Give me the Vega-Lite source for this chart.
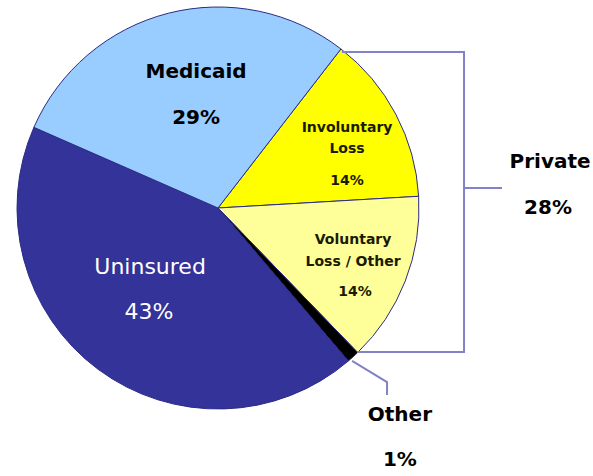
{
  "$schema": "https://vega.github.io/schema/vega-lite/v6.json",
  "autosize": "none",
  "width": 436,
  "height": 416,
  "padding": {"left": 0, "top": 0, "right": 157, "bottom": 60},
  "background": "white",
  "config": {"view": {"stroke": null}},
  "datasets": {
    "slices": [
      {"cat": "Involuntary Loss", "share": 13.6, "idx": 1},
      {"cat": "Voluntary Loss / Other", "share": 13.7, "idx": 2},
      {"cat": "Other", "share": 1.0, "idx": 3},
      {"cat": "Uninsured", "share": 42.8, "idx": 4},
      {"cat": "Medicaid", "share": 28.9, "idx": 5}
    ],
    "bigLabels": [
      {"text": "Medicaid", "u": -0.109, "v": 0.677},
      {"text": "29%", "u": -0.109, "v": 0.448},
      {"text": "Private", "u": 1.652, "v": 0.229},
      {"text": "28%", "u": 1.642, "v": 0.0},
      {"text": "Other", "u": 0.905, "v": -1.03},
      {"text": "1%", "u": 0.905, "v": -1.254}
    ],
    "whiteLabels": [
      {"text": "Uninsured", "u": -0.338, "v": -0.294},
      {"text": "43%", "u": -0.343, "v": -0.517}
    ],
    "smallLabels": [
      {"text": "Involuntary", "u": 0.642, "v": 0.398},
      {"text": "Loss", "u": 0.642, "v": 0.294},
      {"text": "14%", "u": 0.642, "v": 0.134},
      {"text": "Voluntary", "u": 0.672, "v": -0.159},
      {"text": "Loss / Other", "u": 0.672, "v": -0.269},
      {"text": "14%", "u": 0.682, "v": -0.418}
    ],
    "leaders": [
      {"g": "private", "seq": 1, "u": 0.617, "v": 0.776},
      {"g": "private", "seq": 2, "u": 1.224, "v": 0.776},
      {"g": "private", "seq": 3, "u": 1.224, "v": -0.716},
      {"g": "private", "seq": 4, "u": 0.692, "v": -0.716},
      {"g": "tick", "seq": 1, "u": 1.224, "v": 0.1},
      {"g": "tick", "seq": 2, "u": 1.413, "v": 0.1},
      {"g": "other", "seq": 1, "u": 0.667, "v": -0.761},
      {"g": "other", "seq": 2, "u": 0.841, "v": -0.866},
      {"g": "other", "seq": 3, "u": 0.841, "v": -0.93}
    ]
  },
  "layer": [
    {
      "data": {"name": "slices"},
      "mark": {"type": "arc", "outerRadius": 201, "stroke": "#2b2b85", "strokeWidth": 1},
      "encoding": {
        "theta": {"field": "share", "type": "quantitative", "stack": true, "scale": {"range": [0.658, 6.9412]}},
        "order": {"field": "idx", "type": "quantitative"},
        "color": {
          "field": "cat", "type": "nominal", "legend": null,
          "scale": {
            "domain": ["Involuntary Loss", "Voluntary Loss / Other", "Other", "Uninsured", "Medicaid"],
            "range": ["#FFFF00", "#FFFF99", "#000000", "#333399", "#99CCFF"]
          }
        }
      }
    },
    {
      "data": {"name": "leaders"},
      "mark": {"type": "line", "color": "#8282C6", "strokeWidth": 2},
      "encoding": {
        "x": {"field": "u", "type": "quantitative", "axis": null, "scale": {"domain": [-1.0846, 1.0846], "nice": false, "zero": false}},
        "y": {"field": "v", "type": "quantitative", "axis": null, "scale": {"domain": [-1.0348, 1.0348], "nice": false, "zero": false}},
        "detail": {"field": "g", "type": "nominal"},
        "order": {"field": "seq", "type": "quantitative"}
      }
    },
    {
      "data": {"name": "bigLabels"},
      "mark": {"type": "text", "font": "DejaVu Sans", "fontWeight": "bold", "fontSize": 20, "color": "#000000", "baseline": "middle", "align": "center"},
      "encoding": {
        "x": {"field": "u", "type": "quantitative", "axis": null},
        "y": {"field": "v", "type": "quantitative", "axis": null},
        "text": {"field": "text", "type": "nominal"}
      }
    },
    {
      "data": {"name": "whiteLabels"},
      "mark": {"type": "text", "font": "DejaVu Sans", "fontWeight": "normal", "fontSize": 22, "color": "#FFFFFF", "baseline": "middle", "align": "center"},
      "encoding": {
        "x": {"field": "u", "type": "quantitative", "axis": null},
        "y": {"field": "v", "type": "quantitative", "axis": null},
        "text": {"field": "text", "type": "nominal"}
      }
    },
    {
      "data": {"name": "smallLabels"},
      "mark": {"type": "text", "font": "DejaVu Sans", "fontWeight": "bold", "fontSize": 14, "color": "#1a1a00", "baseline": "middle", "align": "center"},
      "encoding": {
        "x": {"field": "u", "type": "quantitative", "axis": null},
        "y": {"field": "v", "type": "quantitative", "axis": null},
        "text": {"field": "text", "type": "nominal"}
      }
    }
  ]
}
